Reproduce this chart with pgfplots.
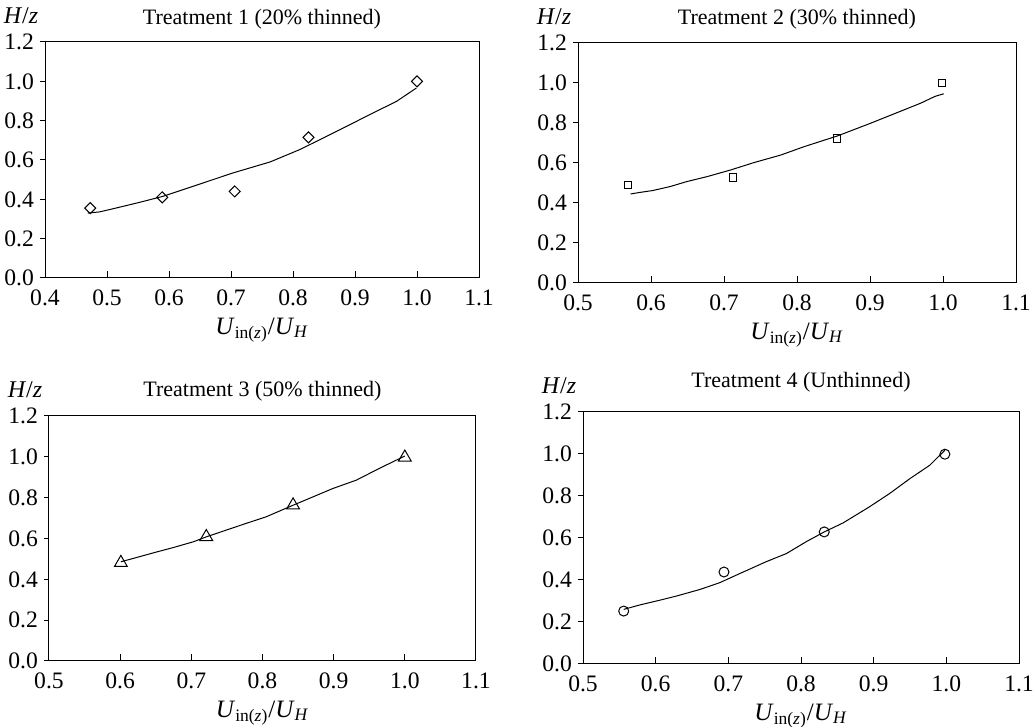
\documentclass[border=0pt]{standalone}
\usepackage{fontspec}
\setmainfont{Liberation Serif}
\usepackage{pgfplots}
\pgfplotsset{compat=1.18}

\pgfplotsset{
  panel/.style={
    scale only axis,
    font=\fontsize{11}{13}\selectfont,
    tick label style={font=\fontsize{11.8}{14}\selectfont},
    yticklabel style={xshift=0.5pt},
    xticklabel style={yshift=-2.5pt},
    ymin=0, ymax=1.2,
    ytick={0,0.2,0.4,0.6,0.8,1.0,1.2},
    xtick={0.4,0.5,0.6,0.7,0.8,0.9,1.0,1.1},
    xtick pos=bottom, ytick pos=left,
    xtick align=inside, ytick align=outside,
    major tick length=2.5pt,
    xtick style={/pgfplots/major tick length=3.5pt},
    axis line style={line width=0.5pt},
    tick style={line width=0.5pt, black},
    /pgf/number format/assume math mode=true,
    /pgf/number format/.cd, fixed, fixed zerofill, precision=1, /pgfplots/.cd,
    xlabel={\textit{U}\textsubscript{in(\textit{z})}/\textit{U}\textsubscript{\textit{H}}},
    xlabel style={font=\fontsize{12.5}{15}\selectfont, yshift=1pt},
    clip=false,
  },
  fit/.style={black, line width=0.5pt, no markers},
  pts/.style={black, only marks, line width=0.5pt, mark options={solid, fill=white}},
}
\newcommand{\hz}{\node[anchor=base, font=\fontsize{12}{14}\selectfont] at (rel axis cs:0,1) [xshift=-12pt, yshift=9pt] {\textit{H}/\textit{z}};}

\begin{document}
\begin{tikzpicture}
\useasboundingbox (0,0) rectangle (516.5pt,363.5pt);

% Treatment 1
\begin{axis}[panel, at={(22.5pt,224.5pt)}, width=217pt, height=118pt, xmin=0.4, xmax=1.1]
\addplot[fit] coordinates {(0.469,0.330)(0.488,0.336)(0.515,0.356)(0.553,0.385)(0.590,0.415)(0.650,0.478)(0.703,0.534)(0.763,0.590)(0.811,0.653)(0.849,0.712)(0.892,0.780)(0.929,0.839)(0.967,0.898)(0.999,0.966)};
\addplot[pts, mark=square, mark size=1.95pt, mark options={rotate=45}] coordinates {(0.473,0.355)(0.589,0.410)(0.706,0.440)(0.825,0.715)(1.000,1.000)};
\node[anchor=base] at (rel axis cs:0.5,1) [yshift=8.5pt] {Treatment 1 (20\% thinned)};
\hz
\end{axis}

% Treatment 2
\begin{axis}[panel, at={(289pt,222pt)}, width=219pt, height=120pt, xmin=0.5, xmax=1.1]
\addplot[fit] coordinates {(0.572,0.445)(0.585,0.453)(0.602,0.462)(0.626,0.482)(0.649,0.507)(0.677,0.532)(0.709,0.565)(0.741,0.602)(0.778,0.640)(0.810,0.682)(0.856,0.736)(0.901,0.799)(0.938,0.853)(0.970,0.900)(0.989,0.933)(1.001,0.946)};
\addplot[pts, mark=square, mark size=1.8pt] coordinates {(0.568,0.490)(0.712,0.527)(0.855,0.722)(0.999,1.000)};
\node[anchor=base] at (rel axis cs:0.5,1) [yshift=9pt] {Treatment 2 (30\% thinned)};
\hz
\end{axis}

% Treatment 3
\begin{axis}[panel, at={(24.5pt,33pt)}, width=213.5pt, height=122.5pt, xmin=0.5, xmax=1.1]
\addplot[fit] coordinates {(0.601,0.486)(0.618,0.502)(0.647,0.530)(0.675,0.556)(0.703,0.584)(0.721,0.608)(0.749,0.641)(0.777,0.674)(0.805,0.706)(0.843,0.763)(0.871,0.804)(0.899,0.845)(0.932,0.886)(0.964,0.943)(1.000,1.004)};
\addplot[pts, mark=triangle, mark size=3.7pt] coordinates {(0.601,0.481)(0.721,0.608)(0.843,0.763)(1.000,0.997)};
\node[anchor=base] at (rel axis cs:0.5,1) [yshift=9.5pt] {Treatment 3 (50\% thinned)};
\hz
\end{axis}

% Treatment 4
\begin{axis}[panel, at={(291.5pt,31.5pt)}, width=218pt, height=126pt, xmin=0.5, xmax=1.1]
\addplot[fit] coordinates {(0.556,0.260)(0.578,0.281)(0.606,0.304)(0.628,0.323)(0.661,0.355)(0.688,0.387)(0.716,0.431)(0.752,0.487)(0.780,0.526)(0.807,0.582)(0.832,0.629)(0.858,0.672)(0.894,0.748)(0.922,0.812)(0.950,0.883)(0.977,0.946)(0.998,1.018)};
\addplot[pts, mark=o, mark size=2.5pt] coordinates {(0.556,0.252)(0.694,0.438)(0.832,0.629)(0.998,0.999)};
\node[anchor=base] at (rel axis cs:0.5,1) [yshift=12pt] {Treatment 4 (Unthinned)};
\hz
\end{axis}
\end{tikzpicture}
\end{document}
